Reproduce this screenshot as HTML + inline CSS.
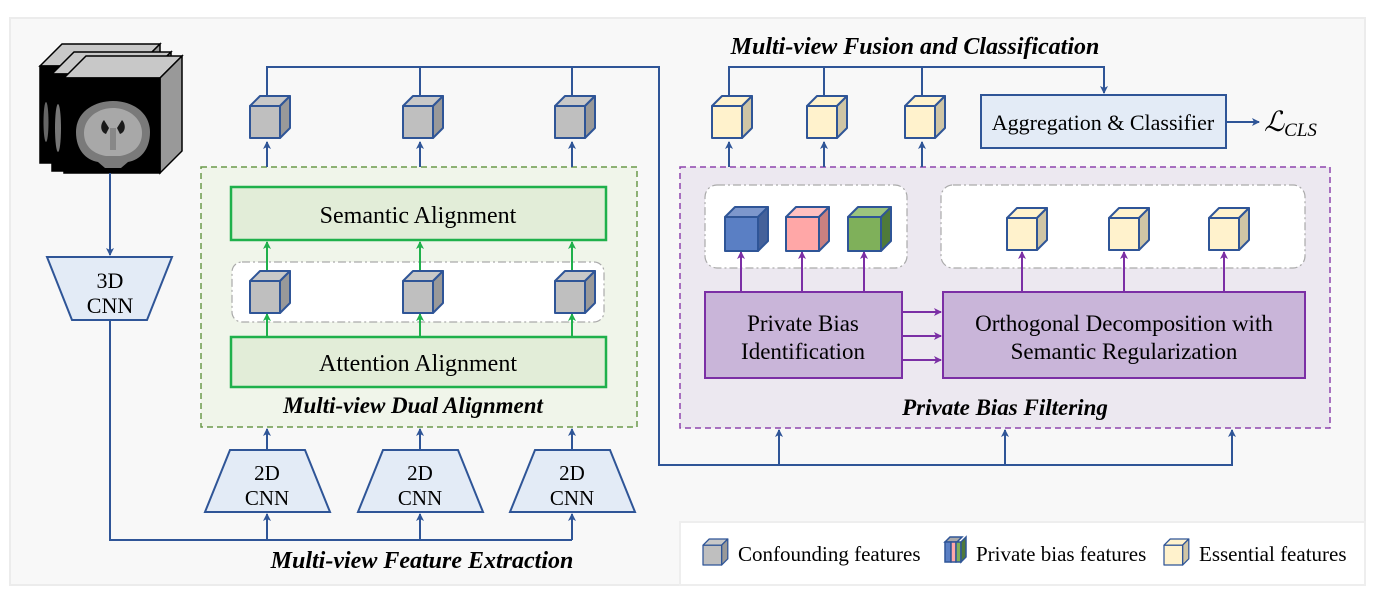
<!DOCTYPE html>
<html><head><meta charset="utf-8"><style>
html,body{margin:0;padding:0;background:#fff;}
svg{display:block;font-family:"Liberation Serif",serif;}
</style></head><body>
<svg width="1375" height="597" viewBox="0 0 1375 597" xmlns="http://www.w3.org/2000/svg">
<defs>
<marker id="ab" markerWidth="8" markerHeight="8" refX="7" refY="4" orient="auto" markerUnits="userSpaceOnUse"><path d="M0,0 L8,4 L0,8 L2,4 z" fill="#2f5597"/></marker>
<marker id="ag" markerWidth="8" markerHeight="8" refX="7" refY="4" orient="auto" markerUnits="userSpaceOnUse"><path d="M0,0 L8,4 L0,8 L2,4 z" fill="#1fb04b"/></marker>
<marker id="ap" markerWidth="8" markerHeight="8" refX="7" refY="4" orient="auto" markerUnits="userSpaceOnUse"><path d="M0,0 L8,4 L0,8 L2,4 z" fill="#7b2fa5"/></marker>
<g id="cg" stroke="#2f5597" stroke-width="2" stroke-linejoin="round"><polygon points="0,0 10,-10 40,-10 30,0" fill="#c8c8c8"/><polygon points="30,0 40,-10 40,22 30,32" fill="#999"/><rect x="0" y="0" width="30" height="32" fill="#bfbfbf"/></g>
<g id="cy" stroke="#2f5597" stroke-width="2" stroke-linejoin="round"><polygon points="0,0 10,-10 40,-10 30,0" fill="#fff2cc"/><polygon points="30,0 40,-10 40,22 30,32" fill="#cfc5a5"/><rect x="0" y="0" width="30" height="32" fill="#fff2cc"/></g>
<g id="cb" stroke="#2f5597" stroke-width="2" stroke-linejoin="round"><polygon points="0,0 10,-10 43,-10 33,0" fill="#7d97cc"/><polygon points="33,0 43,-10 43,24 33,34" fill="#44619a"/><rect x="0" y="0" width="33" height="34" fill="#5a7fc4"/></g>
<g id="cr" stroke="#2f5597" stroke-width="2" stroke-linejoin="round"><polygon points="0,0 10,-10 43,-10 33,0" fill="#ffc0c0"/><polygon points="33,0 43,-10 43,24 33,34" fill="#c98080"/><rect x="0" y="0" width="33" height="34" fill="#ffa7a7"/></g>
<g id="cgr" stroke="#2f5597" stroke-width="2" stroke-linejoin="round"><polygon points="0,0 10,-10 43,-10 33,0" fill="#9cc47e"/><polygon points="33,0 43,-10 43,24 33,34" fill="#4f7a3a"/><rect x="0" y="0" width="33" height="34" fill="#7fb05a"/></g>
</defs>
<rect x="10" y="18" width="1355" height="567" fill="#f8f8f8" stroke="#ececec" stroke-width="2"/>

<!-- brain stack -->
<g stroke="#000" stroke-width="1.5">
<polygon points="40,66 62,44 160,44 138,66" fill="#c8c8c8"/><polygon points="138,66 160,44 160,141 138,163" fill="#999"/><rect x="40" y="66" width="98" height="97" fill="#000"/>
<polygon points="52,74 74,52 171,52 149,74" fill="#c8c8c8"/><polygon points="149,74 171,52 171,149 149,171" fill="#999"/><rect x="52" y="74" width="97" height="97" fill="#000"/>
<polygon points="64,78 86,56 182,56 160,78" fill="#c8c8c8"/><polygon points="160,78 182,56 182,151 160,173" fill="#999"/><rect x="64" y="78" width="96" height="95" fill="#000"/>
</g>
<path d="M113,101 C132,101 150,112 150,132 C150,150 140,160 128,162 L121,168 L105,168 L98,162 C86,160 76,150 76,132 C76,112 94,101 113,101 z" fill="#7a7a7a"/>
<path d="M113,108 C128,108 142,118 142,133 C142,147 132,154 120,156 L106,156 C94,154 84,147 84,133 C84,118 98,108 113,108 z" fill="#a8a8a8"/>
<path d="M104,120 C100,124 100,132 106,134 L109,128 z M122,120 C126,124 126,132 120,134 L117,128 z" fill="#1a1a1a"/>
<rect x="110" y="128" width="6" height="22" fill="#888"/>
<ellipse cx="58" cy="128" rx="3" ry="24" fill="#777"/><ellipse cx="46" cy="122" rx="2.5" ry="20" fill="#666"/>

<!-- 3D CNN -->
<line x1="110" y1="173" x2="110" y2="255" stroke="#2f5597" stroke-width="2" marker-end="url(#ab)"/>
<polygon points="47,257 172,257 147,320 72,320" fill="#e3ebf6" stroke="#2f5597" stroke-width="2"/>
<text x="110" y="288" font-size="22" text-anchor="middle">3D</text>
<text x="110" y="313" font-size="22" text-anchor="middle">CNN</text>
<polyline points="110,320 110,540 572,540" fill="none" stroke="#2f5597" stroke-width="2"/>

<!-- 2D CNNs -->
<g stroke="#2f5597" stroke-width="2">
<line x1="267" y1="540" x2="267" y2="514" marker-end="url(#ab)"/><line x1="420" y1="540" x2="420" y2="514" marker-end="url(#ab)"/><line x1="572" y1="540" x2="572" y2="514" marker-end="url(#ab)"/>
<polygon points="230,450 305,450 330,512 205,512" fill="#e3ebf6"/>
<polygon points="383,450 458,450 483,512 358,512" fill="#e3ebf6"/>
<polygon points="535,450 610,450 635,512 510,512" fill="#e3ebf6"/>
<line x1="267" y1="450" x2="267" y2="429" marker-end="url(#ab)"/><line x1="420" y1="450" x2="420" y2="429" marker-end="url(#ab)"/><line x1="572" y1="450" x2="572" y2="429" marker-end="url(#ab)"/>
</g>
<g font-size="21" text-anchor="middle"><text x="267" y="480">2D</text><text x="267" y="505">CNN</text><text x="420" y="480">2D</text><text x="420" y="505">CNN</text><text x="572" y="480">2D</text><text x="572" y="505">CNN</text></g>
<text x="422" y="568" font-size="24" font-weight="bold" font-style="italic" text-anchor="middle">Multi-view Feature Extraction</text>

<!-- dual alignment -->
<rect x="201" y="167" width="436" height="260" fill="#f0f5ea" stroke="#6a9a4a" stroke-width="1.5" stroke-dasharray="6,4"/>
<rect x="231" y="187" width="375" height="53" fill="#e2edd8" stroke="#1fb04b" stroke-width="2.5"/>
<text x="418" y="223" font-size="24" text-anchor="middle">Semantic Alignment</text>
<rect x="232" y="262" width="372" height="60" rx="10" fill="#fff" stroke="#aaa" stroke-width="1.2" stroke-dasharray="8,3,2,3"/>
<rect x="231" y="337" width="375" height="50" fill="#e2edd8" stroke="#1fb04b" stroke-width="2.5"/>
<text x="418" y="371" font-size="24" text-anchor="middle">Attention Alignment</text>
<g stroke="#1fb04b" stroke-width="2">
<line x1="267" y1="272" x2="267" y2="242" marker-end="url(#ag)"/><line x1="420" y1="272" x2="420" y2="242" marker-end="url(#ag)"/><line x1="572" y1="272" x2="572" y2="242" marker-end="url(#ag)"/>
<line x1="267" y1="337" x2="267" y2="314" marker-end="url(#ag)"/><line x1="420" y1="337" x2="420" y2="314" marker-end="url(#ag)"/><line x1="572" y1="337" x2="572" y2="314" marker-end="url(#ag)"/>
</g>
<use href="#cg" x="250" y="281"/><use href="#cg" x="403" y="281"/><use href="#cg" x="555" y="281"/>
<text x="413" y="413" font-size="23" font-weight="bold" font-style="italic" text-anchor="middle">Multi-view Dual Alignment</text>

<!-- top gray cubes + line -->
<g stroke="#2f5597" stroke-width="2" fill="none">
<line x1="267" y1="167" x2="267" y2="142" marker-end="url(#ab)"/><line x1="420" y1="167" x2="420" y2="142" marker-end="url(#ab)"/><line x1="572" y1="167" x2="572" y2="142" marker-end="url(#ab)"/>
<polyline points="267,106 267,67 659,67 659,465 1232,465 1232,430" marker-end="url(#ab)"/>
<line x1="420" y1="67" x2="420" y2="106"/><line x1="572" y1="67" x2="572" y2="106"/>
<line x1="779" y1="465" x2="779" y2="430" marker-end="url(#ab)"/><line x1="1005" y1="465" x2="1005" y2="430" marker-end="url(#ab)"/>
</g>
<use href="#cg" x="250" y="106"/><use href="#cg" x="403" y="106"/><use href="#cg" x="555" y="106"/>

<!-- private bias filtering -->
<rect x="680" y="167" width="650" height="261" fill="#ece8f0" stroke="#8e44ad" stroke-width="1.5" stroke-dasharray="6,4"/>
<rect x="705" y="185" width="202" height="83" rx="12" fill="#fff" stroke="#aaa" stroke-width="1.2" stroke-dasharray="8,3,2,3"/>
<rect x="941" y="185" width="364" height="83" rx="12" fill="#fff" stroke="#aaa" stroke-width="1.2" stroke-dasharray="8,3,2,3"/>
<g stroke="#7b2fa5" stroke-width="2">
<line x1="741" y1="292" x2="741" y2="252" marker-end="url(#ap)"/><line x1="802" y1="292" x2="802" y2="252" marker-end="url(#ap)"/><line x1="864" y1="292" x2="864" y2="252" marker-end="url(#ap)"/>
<line x1="1022" y1="292" x2="1022" y2="252" marker-end="url(#ap)"/><line x1="1124" y1="292" x2="1124" y2="252" marker-end="url(#ap)"/><line x1="1224" y1="292" x2="1224" y2="252" marker-end="url(#ap)"/>
<line x1="902" y1="312" x2="941" y2="312" marker-end="url(#ap)"/><line x1="902" y1="336" x2="941" y2="336" marker-end="url(#ap)"/><line x1="902" y1="360" x2="941" y2="360" marker-end="url(#ap)"/>
</g>
<use href="#cb" x="725" y="217"/><use href="#cr" x="786" y="217"/><use href="#cgr" x="848" y="217"/>
<use href="#cy" x="1007" y="218"/><use href="#cy" x="1109" y="218"/><use href="#cy" x="1209" y="218"/>
<rect x="705" y="292" width="197" height="86" fill="#c9b5d9" stroke="#7b2fa5" stroke-width="2"/>
<rect x="943" y="292" width="362" height="86" fill="#c9b5d9" stroke="#7b2fa5" stroke-width="2"/>
<g font-size="23" text-anchor="middle"><text x="803" y="331">Private Bias</text><text x="803" y="359">Identification</text>
<text x="1124" y="331">Orthogonal Decomposition with</text><text x="1124" y="359">Semantic Regularization</text></g>
<text x="1005" y="415" font-size="23" font-weight="bold" font-style="italic" text-anchor="middle">Private Bias Filtering</text>

<!-- fusion -->
<text x="915" y="54" font-size="24" font-weight="bold" font-style="italic" text-anchor="middle">Multi-view Fusion and Classification</text>
<g stroke="#2f5597" stroke-width="2" fill="none">
<line x1="729" y1="167" x2="729" y2="142" marker-end="url(#ab)"/><line x1="824" y1="167" x2="824" y2="142" marker-end="url(#ab)"/><line x1="922" y1="167" x2="922" y2="142" marker-end="url(#ab)"/>
<polyline points="729,106 729,67 1104,67 1104,93" marker-end="url(#ab)"/>
<line x1="824" y1="67" x2="824" y2="106"/><line x1="922" y1="67" x2="922" y2="106"/>
<line x1="1226" y1="122" x2="1259" y2="122" marker-end="url(#ab)"/>
</g>
<use href="#cy" x="712" y="106"/><use href="#cy" x="807" y="106"/><use href="#cy" x="905" y="106"/>
<rect x="981" y="95" width="245" height="53" fill="#e3ebf6" stroke="#2f5597" stroke-width="2"/>
<text x="1103" y="130" font-size="22" text-anchor="middle">Aggregation &amp; Classifier</text>
<text x="1264" y="131" font-size="28" font-style="italic">ℒ<tspan font-size="19" dy="5">CLS</tspan></text>

<!-- legend -->
<rect x="680" y="522" width="685" height="63" fill="#fff" stroke="#eee" stroke-width="2"/>
<g transform="translate(703,539) scale(0.62)"><use href="#cg" x="0" y="10"/></g>
<text x="738" y="561" font-size="21">Confounding features</text>
<g stroke="#2f5597" stroke-width="1.5"><polygon points="945,542 950,537 962,537 957,542" fill="#aaa"/><rect x="945" y="542" width="6" height="20" fill="#5a7fc4"/><rect x="951" y="542" width="5" height="20" fill="#ffa7a7"/><rect x="956" y="542" width="5" height="20" fill="#7fb05a"/><polygon points="961,542 966,537 966,557 961,562" fill="#4f7a3a"/></g>
<text x="976" y="561" font-size="21">Private bias features</text>
<g transform="translate(1164,539) scale(0.62)"><use href="#cy" x="0" y="10"/></g>
<text x="1199" y="561" font-size="21">Essential features</text>
</svg>
</body></html>
